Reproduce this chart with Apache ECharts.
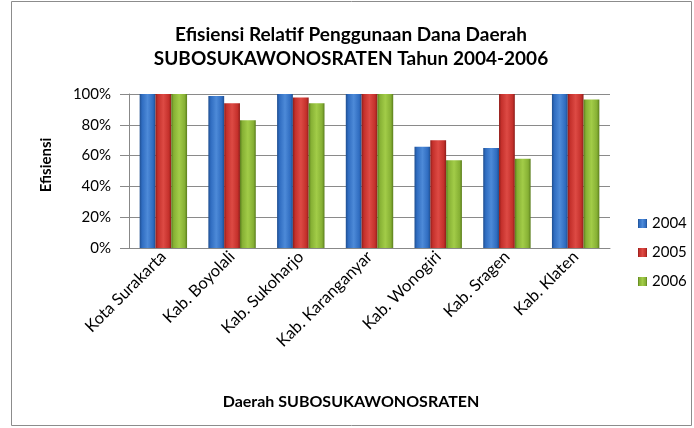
<!DOCTYPE html>
<html><head><meta charset="utf-8">
<script src="https://cdn.jsdelivr.net/npm/echarts@6/dist/echarts.min.js"></script>
<style>html,body{margin:0;padding:0;background:#fff}#c{width:694px;height:428px}</style>
</head><body><div id="c"></div>
<script>
const categories = ['Kota Surakarta','Kab. Boyolali','Kab. Sukoharjo','Kab. Karanganyar','Kab. Wonogiri','Kab. Sragen','Kab. Klaten'];
const s2004 = [100, 98.7, 100, 100, 65.8, 65, 100];
const s2005 = [100, 94, 97.8, 100, 70, 100, 100];
const s2006 = [100, 83, 94, 100, 57, 58, 96.5];
const yTicks = [0, 20, 40, 60, 80, 100];

function grad(dark, mid, light){
  return new echarts.graphic.LinearGradient(0,0,1,0,[
    {offset:0,color:dark},{offset:0.15,color:mid},{offset:0.5,color:light},{offset:0.85,color:mid},{offset:1,color:dark}
  ]);
}
const F = 'Lato, "Liberation Sans", sans-serif';
const chart = echarts.init(document.getElementById('c'));
chart.setOption({
  animation:false,
  textStyle:{fontFamily:F},
  graphic:[{type:'rect',shape:{x:11.5,y:1.5,width:680,height:424},style:{fill:'none',stroke:'#8c8c8c',lineWidth:1}}],
  title:{
    text:'Efisiensi Relatif Penggunaan Dana Daerah\nSUBOSUKAWONOSRATEN Tahun 2004-2006',
    left:346, top:18, textAlign:'center',
    textStyle:{fontFamily:F,fontSize:19,fontWeight:'bold',color:'#000',lineHeight:24}
  },
  legend:{
    orient:'vertical', left:633, top:211, itemWidth:9, itemHeight:9, itemGap:14,
    icon:'rect',
    textStyle:{fontFamily:F,fontSize:15,color:'#000'},
    data:['2004','2005','2006']
  },
  grid:{left:129,right:84,top:94,bottom:180},
  xAxis:{
    type:'category', data:categories,
    name:'Daerah SUBOSUKAWONOSRATEN', nameLocation:'middle', nameGap:146,
    nameTextStyle:{fontFamily:F,fontSize:16,fontWeight:'bold',color:'#000',padding:[0,37,0,0]},
    axisLine:{lineStyle:{color:'#888'}},
    axisTick:{show:false},
    axisLabel:{rotate:45,fontSize:16.5,color:'#000',fontFamily:F,margin:6}
  },
  yAxis:{
    type:'value', min:0, max:100, interval:20,
    name:'Efisiensi', nameLocation:'middle', nameGap:75,
    nameTextStyle:{fontFamily:F,fontSize:15,fontWeight:'bold',color:'#000',padding:[0,0,0,12]},
    axisLine:{show:true,lineStyle:{color:'#888'}},
    axisTick:{show:true,length:9,lineStyle:{color:'#888'}},
    axisLabel:{fontSize:15,color:'#000',fontFamily:F,margin:18,formatter:v=>yTicks.includes(v)?v+'%':''},
    splitLine:{lineStyle:{color:'#8a8a8a'}}
  },
  series:[
    {name:'2004',type:'bar',data:s2004,barGap:'0%',barCategoryGap:'31%',
     itemStyle:{color:grad('#1f4e8f','#2f6cc0','#4d8ad8')}},
    {name:'2005',type:'bar',data:s2005,
     itemStyle:{color:grad('#8e1d1a','#c4302b','#dd4a44')}},
    {name:'2006',type:'bar',data:s2006,
     itemStyle:{color:grad('#5a7d1c','#86b034','#a2cc48')}}
  ]
});
</script></body></html>
